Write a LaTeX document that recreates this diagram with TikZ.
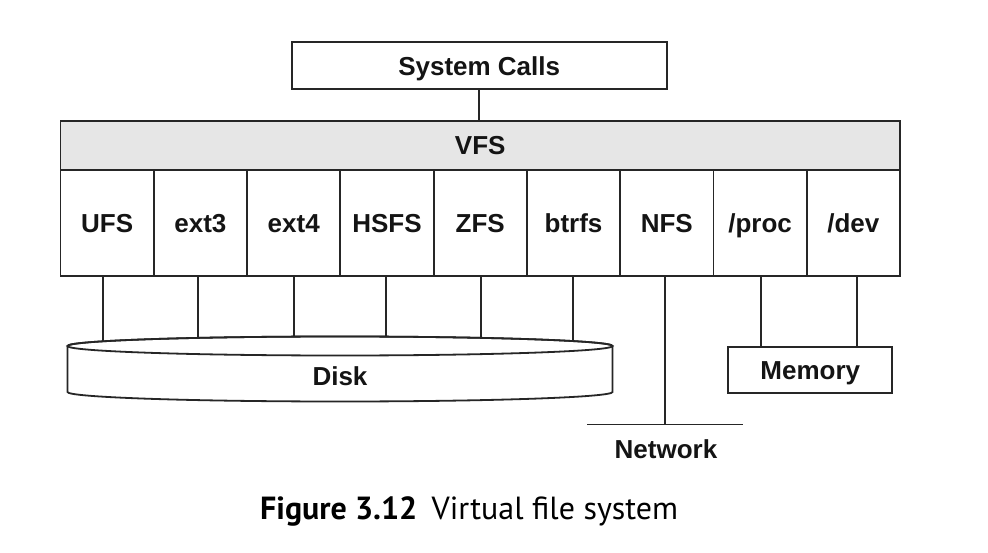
\documentclass[tikz,border=0pt]{standalone}
\usepackage{fontspec}
\setmainfont{Liberation Sans}
\newfontfamily\capfont{PT Sans}
\definecolor{lc}{HTML}{262626}
\definecolor{tc}{HTML}{141414}
\definecolor{vfsfill}{HTML}{E6E6E6}
\tikzset{
  lbl/.style={font=\fontsize{26}{30}\selectfont\bfseries, text=tc, inner sep=0pt, text height=18.7pt, text depth=0pt},
  boxnode/.style={lbl, draw=lc, line width=1.8pt},
  cellbox/.style={boxnode, minimum width=93.28pt, minimum height=105.4pt},
  wire/.style={draw=lc, line width=1.8pt},
}
\begin{document}
\begin{tikzpicture}[x=1pt,y=-1pt]
\useasboundingbox[fill=white] (0,0) rectangle (988,553);
% top box
\node[boxnode, minimum width=375pt, minimum height=47pt] (sys) at (479.2,65.8) {System Calls};
% VFS bar
\node[boxnode, fill=vfsfill, minimum width=839.5pt, minimum height=49.3pt] (vfs) at (480.25,145.65) {VFS};
\draw[wire] (sys.south -| 479.3,0) -- (vfs.north -| 479.3,0);
% cells
\node[cellbox] (ufs)   at (107.14,223) {UFS};
\node[cellbox] (ext3)  at (200.42,223) {ext3};
\node[cellbox] (ext4)  at (293.70,223) {ext4};
\node[cellbox] (hsfs)  at (386.98,223) {HSFS};
\node[cellbox] (zfs)   at (480.26,223) {ZFS};
\node[cellbox] (btrfs) at (573.54,223) {btrfs};
\node[cellbox] (nfs)   at (666.82,223) {NFS};
\node[cellbox] (proc)  at (760.10,223) {/proc};
\node[cellbox] (dev)   at (853.38,223) {/dev};
% disk anchors (hidden under disk top)
\coordinate (d1) at (103.3,348);
\coordinate (d2) at (198.3,348);
\coordinate (d3) at (293.6,348);
\coordinate (d4) at (385.8,348);
\coordinate (d5) at (480.9,348);
\coordinate (d6) at (572.7,348);
\draw[wire] (ufs.south -| d1) -- (d1);
\draw[wire] (ext3.south -| d2) -- (d2);
\draw[wire] (ext4.south -| d3) -- (d3);
\draw[wire] (hsfs.south -| d4) -- (d4);
\draw[wire] (zfs.south -| d5) -- (d5);
\draw[wire] (btrfs.south -| d6) -- (d6);
% disk
\draw[wire, fill=white] (67.5,346) -- (67.5,392)
  arc[start angle=180, end angle=360, x radius=272.5pt, y radius=9.5pt]
  -- (612.5,346)
  arc[start angle=0, end angle=180, x radius=272.5pt, y radius=9.5pt] -- cycle;
\draw[wire] (340,346) ellipse[x radius=272.5pt, y radius=9.5pt];
\node[lbl] (disk) at (340,376) {Disk};
% memory
\node[boxnode, minimum width=164pt, minimum height=46pt] (mem) at (810.3,370) {Memory};
\draw[wire] (proc.south -| 761,0) -- (mem.north -| 761,0);
\draw[wire] (dev.south -| 856.7,0) -- (mem.north -| 856.7,0);
% network
\coordinate (netl) at (587.3,424.5);
\coordinate (netr) at (742.7,424.5);
\coordinate (netm) at (665.3,424.5);
\draw[wire] (netl) -- (netr);
\draw[wire] (nfs.south -| netm) -- (netm);
\node[lbl] (net) at (666,449) {Network};
% caption
\node[anchor=base west, inner sep=0pt, text=black] (cap) at (260,519)
  {\capfont\fontsize{32}{36}\selectfont\bfseries Figure 3.12\hspace{0.45em}\mdseries Virtual file system};
\end{tikzpicture}
\end{document}
